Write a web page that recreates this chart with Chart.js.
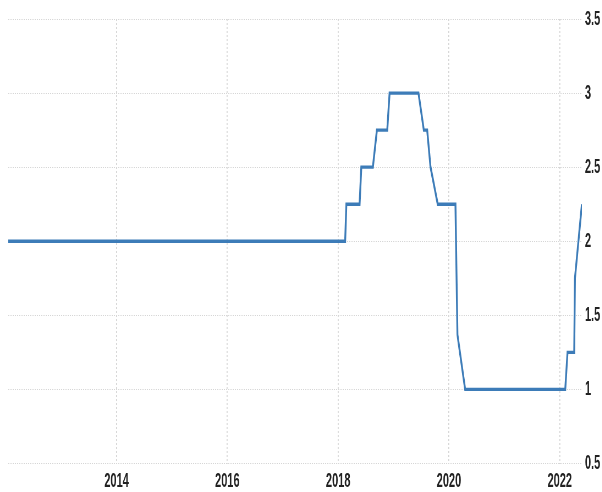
<!DOCTYPE html>
<html>
<head>
<meta charset="utf-8">
<script src="https://cdn.jsdelivr.net/npm/chart.js@4"></script>
<style>
  html, body { margin: 0; padding: 0; background: #fff; overflow: hidden; }
  /* the reference uses a very condensed face, so the chart is drawn wide and squeezed */
  #wrap { position: absolute; left: 0; top: 0; width: 1095px; height: 492px; transform: scaleX(0.55); transform-origin: 0 0; }
</style>
</head>
<body>
<div id="wrap"><canvas id="grafico"></canvas></div>
<script>
// datas em anos decimais e a taxa em cada ponto
const fechas = [2012.045, 2018.126, 2018.148, 2018.387, 2018.418, 2018.627, 2018.699, 2018.886, 2018.928,
                2019.450, 2019.546, 2019.607, 2019.667, 2019.798, 2020.117, 2020.153, 2020.292,
                2022.099, 2022.140, 2022.261, 2022.274, 2022.400];
const tasas  = [2.00, 2.00, 2.25, 2.25, 2.50, 2.50, 2.75, 2.75, 3.00,
                3.00, 2.75, 2.75, 2.50, 2.25, 2.25, 1.37, 1.00,
                1.00, 1.25, 1.25, 1.75, 2.25];
const etiquetasAnio = [2014, 2016, 2018, 2020, 2022];
const ticksTasa = [0.5, 1, 1.5, 2, 2.5, 3, 3.5];

const fonte = { family: "'Liberation Sans', Arial, sans-serif", size: 20, weight: 'bold' };
const corGrade = '#d6d6d6';

const pontos = fechas.map((f, i) => ({ x: f, y: tasas[i] }));

new Chart(document.getElementById('grafico').getContext('2d'), {
    type: 'line',
    data: {
        datasets: [{
            data: pontos,
            borderColor: '#3d7cb8',
            borderWidth: 3.4,
            pointRadius: 0,
            tension: 0,
            fill: false
        }]
    },
    options: {
        responsive: true, maintainAspectRatio: false, animation: false,
        layout: { padding: { left: 15, top: 19, right: 0, bottom: 0 } },
        plugins: { legend: { display: false }, tooltip: { enabled: false } },
        scales: {
            x: {
                type: 'linear',
                min: fechas[0], max: fechas[fechas.length - 1],
                afterBuildTicks: axis => { axis.ticks = etiquetasAnio.map(v => ({ value: v })); },
                afterFit: axis => { axis.height = 28.5; },
                grid: { color: corGrade, lineWidth: 1.8, drawTicks: false },
                border: { display: false, dash: [2, 2] },
                ticks: { font: fonte, color: '#222', padding: 6, maxRotation: 0, autoSkip: false, callback: v => String(v) }
            },
            y: {
                position: 'right',
                min: 0.5, max: 3.5,
                afterBuildTicks: axis => { axis.ticks = ticksTasa.map(v => ({ value: v })); },
                afterFit: axis => { axis.width = 37; },
                grid: { color: corGrade, lineWidth: 1, drawTicks: false },
                border: { display: false, dash: [2, 2] },
                ticks: { font: fonte, color: '#222', padding: 5.5, callback: v => String(v) }
            }
        }
    }
});
</script>
</body>
</html>
